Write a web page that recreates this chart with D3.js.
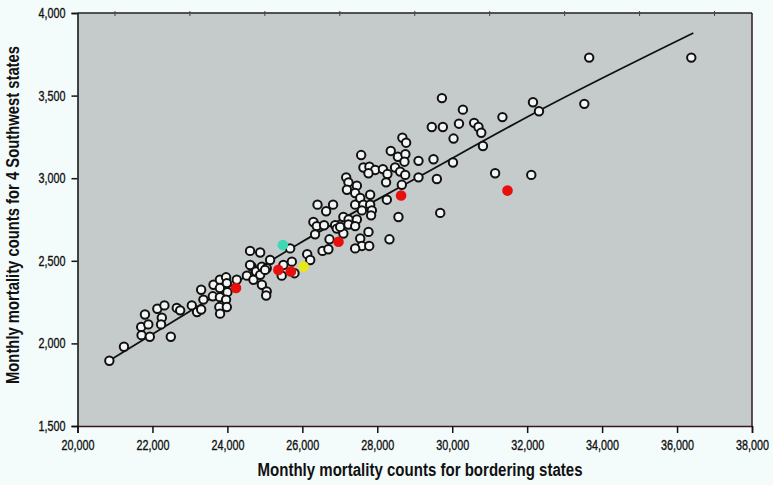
<!DOCTYPE html>
<html>
<head>
<meta charset="utf-8">
<script src="https://cdn.jsdelivr.net/npm/d3@7"></script>
<style>
  body { margin: 0; background: #f4fbfb; }
  svg text { font-family: 'Liberation Sans', Arial, sans-serif; fill: #111; }
</style>
</head>
<body>
<div id="chart"></div>
<script>
// Axis ticks
const xTicks = [20000, 22000, 24000, 26000, 28000, 30000, 32000, 34000, 36000, 38000];
const yTicks = [1500, 2000, 2500, 3000, 3500, 4000];
const xMinorTop = [21000, 23000, 25000, 27000, 29000, 31000, 33000, 35000, 37000];

// Monthly counts: [bordering states, 4 Southwest states]
const plainPoints = [
  [20850, 1895], [21240, 1980], [21710, 2050], [21700, 2100], [21890, 2115], [21800, 2175],
  [21930, 2040], [22130, 2210], [22320, 2230], [22250, 2155], [22230, 2115], [22490, 2040],
  [22650, 2215], [22740, 2200], [23050, 2230], [23190, 2190], [23300, 2205], [23360, 2265],
  [23300, 2325], [23630, 2355], [23610, 2285], [23800, 2385], [23965, 2400], [23800, 2335],
  [23985, 2365], [23800, 2280], [24000, 2310], [23965, 2265], [23785, 2220], [23805, 2180],
  [23985, 2220], [24250, 2385],
  [24605, 2560], [24875, 2550], [24520, 2410], [24650, 2465], [24695, 2385], [24765, 2435],
  [24875, 2415], [24920, 2465], [25050, 2455], [25140, 2505], [24920, 2355], [25050, 2315],
  [25035, 2290], [24605, 2475], [25005, 2445], [25675, 2575], [25495, 2475], [25450, 2410],
  [25720, 2495], [25790, 2425], [26130, 2540], [26210, 2505], [26295, 2735], [26405, 2840],
  [26385, 2710], [26340, 2660], [26540, 2560], [26695, 2570], [26820, 2840], [26635, 2800],
  [27410, 2840], [26580, 2715], [26875, 2715], [26920, 2695], [27095, 2765], [27235, 2750],
  [27455, 2750], [27095, 2665], [27010, 2705], [27230, 2720], [27410, 2710], [26725, 2630],
  [27545, 2635], [27590, 2590], [27410, 2575], [27785, 2590], [27765, 2675], [28325, 2630],
  [28565, 2765], [29680, 2790],
  [29725, 3485], [30285, 3415], [32155, 3460], [32315, 3405], [31340, 3370], [29455, 3310],
  [29750, 3310], [30180, 3330], [30585, 3335], [30700, 3310], [30775, 3275], [30035, 3240],
  [30820, 3195], [28670, 3245], [28770, 3215], [27570, 3140], [28360, 3165], [28550, 3130],
  [28750, 3145], [28725, 3100], [29100, 3105], [29500, 3115], [30020, 3095], [27630, 3065],
  [27790, 3070], [27945, 3050], [28150, 3055], [28270, 3025], [28475, 3065], [28610, 3040],
  [28745, 3020], [27765, 3030], [29100, 3005], [29590, 2995], [31145, 3030], [32110, 3020],
  [27170, 3005], [27230, 2975], [27455, 2955], [27190, 2930], [28235, 2975], [28655, 2960],
  [28255, 2870], [27410, 2910], [27545, 2880], [27810, 2900], [27630, 2840], [27810, 2840],
  [27855, 2805], [27835, 2775], [27590, 2805],
  [33655, 3730], [36380, 3730], [33525, 3450]
];
const redPoints = [[24230, 2335], [25360, 2445], [25695, 2435], [26965, 2615], [28635, 2895], [31475, 2925]];
const yellowPoints = [[26035, 2465]];
const cyanPoints = [[25480, 2595]];

// Fitted curve
const fitLine = [[20920, 1906], [23270, 2232], [25940, 2608], [29145, 3013], [32350, 3413], [36435, 3879]];

const width = 773, height = 485;
const margin = { top: 13, right: 21, bottom: 59, left: 77.5 };

const svg = d3.select('#chart').append('svg')
    .attr('width', width)
    .attr('height', height);

const x = d3.scaleLinear().domain([20000, 38000]).range([margin.left, width - margin.right]);
const y = d3.scaleLinear().domain([1500, 4000]).range([height - margin.bottom, margin.top]);

// plot background
svg.append('rect')
    .attr('x', x(20000)).attr('y', y(4000))
    .attr('width', x(38000) - x(20000)).attr('height', y(1500) - y(4000))
    .attr('fill', '#c5caca');

const fmt = d3.format(',');

// the original uses a condensed face; squeeze the text to the same width
function squeeze(sel, perChar) {
    sel.each(function () {
        const t = d3.select(this);
        t.attr('textLength', t.text().length * perChar).attr('lengthAdjust', 'spacingAndGlyphs');
    });
}

// bottom axis
const xAxis = svg.append('g')
    .attr('transform', `translate(0,${y(1500)})`)
    .call(d3.axisBottom(x).tickValues(xTicks).tickFormat(fmt).tickSize(7).tickPadding(7));
xAxis.select('.domain').attr('stroke', '#3a1522').attr('stroke-width', 1.5);
xAxis.selectAll('.tick line').attr('stroke', '#111').attr('stroke-width', 1.5);
xAxis.selectAll('text')
    .attr('font-size', 14).attr('fill', '#111')
    .attr('stroke', '#111').attr('stroke-width', 0.35)
    .call(squeeze, 5.5);

// left axis
const yAxis = svg.append('g')
    .attr('transform', `translate(${x(20000)},0)`)
    .call(d3.axisLeft(y).tickValues(yTicks).tickFormat(fmt).tickSize(6).tickPadding(6));
yAxis.select('.domain').attr('stroke', '#111').attr('stroke-width', 1.5);
yAxis.selectAll('.tick line').attr('stroke', '#111').attr('stroke-width', 1.5);
yAxis.selectAll('text')
    .attr('font-size', 14).attr('fill', '#111')
    .attr('stroke', '#111').attr('stroke-width', 0.35)
    .call(squeeze, 5.4);

// top and right frame lines
svg.append('line')
    .attr('x1', x(20000)).attr('x2', x(38000))
    .attr('y1', y(4000)).attr('y2', y(4000))
    .attr('stroke', '#222').attr('stroke-width', 1.5);
svg.append('line')
    .attr('x1', x(38000)).attr('x2', x(38000))
    .attr('y1', y(4000)).attr('y2', y(1500))
    .attr('stroke', '#3a1522').attr('stroke-width', 1.5);

// little marks on the top line
svg.selectAll('.top-tick')
    .data(xMinorTop)
    .enter().append('line')
    .attr('class', 'top-tick')
    .attr('x1', d => x(d)).attr('x2', d => x(d))
    .attr('y1', y(4000) - 2).attr('y2', y(4000) + 3)
    .attr('stroke', '#444').attr('stroke-width', 1);

// fitted curve
const line = d3.line()
    .x(d => x(d[0]))
    .y(d => y(d[1]))
    .curve(d3.curveMonotoneX);

svg.append('path')
    .datum(fitLine)
    .attr('d', line)
    .attr('fill', 'none')
    .attr('stroke', '#111')
    .attr('stroke-width', 1.8);

// open circles
svg.selectAll('.pt')
    .data(plainPoints)
    .enter().append('circle')
    .attr('class', 'pt')
    .attr('cx', d => x(d[0]))
    .attr('cy', d => y(d[1]))
    .attr('r', 4.2)
    .attr('fill', '#f4f6f6')
    .attr('stroke', '#111')
    .attr('stroke-width', 2);

// highlighted months
function drawFilled(data, color) {
    svg.selectAll(null)
        .data(data)
        .enter().append('circle')
        .attr('cx', d => x(d[0]))
        .attr('cy', d => y(d[1]))
        .attr('r', 5.3)
        .attr('fill', color);
}
drawFilled(redPoints, '#e8100c');
drawFilled(yellowPoints, '#e6e81a');
drawFilled(cyanPoints, '#3ed8b4');

// axis titles
svg.append('text')
    .attr('x', 420)
    .attr('y', 476)
    .attr('text-anchor', 'middle')
    .attr('font-size', 18)
    .attr('font-weight', 'bold')
    .attr('textLength', 325)
    .attr('lengthAdjust', 'spacingAndGlyphs')
    .text('Monthly mortality counts for bordering states');

svg.append('text')
    .attr('transform', 'translate(19,215) rotate(-90)')
    .attr('text-anchor', 'middle')
    .attr('font-size', 18)
    .attr('font-weight', 'bold')
    .attr('textLength', 338)
    .attr('lengthAdjust', 'spacingAndGlyphs')
    .text('Monthly mortality counts for 4 Southwest states');
</script>
</body>
</html>
